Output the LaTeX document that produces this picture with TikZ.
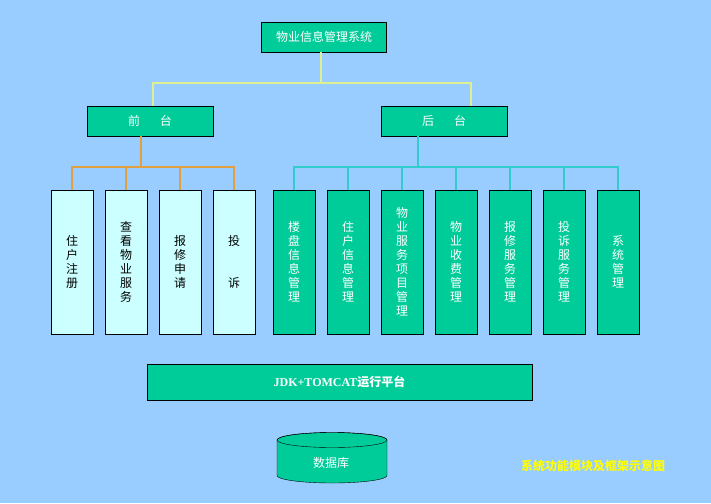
\documentclass[tikz,border=0pt]{standalone}
\usepackage{fontspec}
\setmainfont{Liberation Serif}
\newfontfamily\cjk{Noto Sans CJK SC}
\usetikzlibrary{positioning}

\definecolor{bgblue}{HTML}{99CCFF}
\definecolor{boxgreen}{HTML}{00CC99}
\definecolor{boxcyan}{HTML}{CCFFFF}
\definecolor{lineyellow}{HTML}{DDF090}
\definecolor{lineorange}{HTML}{E0A040}
\definecolor{lineteal}{HTML}{33CCCC}
\definecolor{capyellow}{HTML}{FFFF00}

\tikzset{
  headbox/.style = {draw=black, fill=boxgreen, text=white, inner sep=0pt,
    minimum height=30pt, font=\cjk\fontsize{12}{14}\selectfont},
  tallbox/.style = {draw=black, inner sep=0pt, minimum width=42pt,
    minimum height=144pt, align=center, font=\cjk\fontsize{12}{14}\selectfont},
  userbox/.style = {tallbox, fill=boxcyan, text=black},
  adminbox/.style = {tallbox, fill=boxgreen, text=white},
  yline/.style = {lineyellow, line width=1.5pt},
  oline/.style = {lineorange, line width=1.5pt},
  tline/.style = {lineteal, line width=1.5pt}
}

\begin{document}
\begin{tikzpicture}[x=1pt, y=-1pt]
\fill[bgblue] (0,0) rectangle (711,503);
\useasboundingbox (0,0) rectangle (711,503);

% top level
\node[headbox, minimum width=125pt] (sys) at (324,37) {物业信息管理系统};
\node[headbox, minimum width=126pt] (front) at (150,121) {前\hspace{20pt}台};
\node[headbox, minimum width=126pt] (back) at (444,121) {后\hspace{20pt}台};

% front modules
\foreach \t [count=\i] in {{住\\户\\注\\册}, {查\\看\\物\\业\\服\\务},
    {报\\修\\申\\请}, {投\\[28pt]诉}}
  \node[userbox] (u\i) at (18+54*\i,262) {\t};

% back modules
\foreach \t [count=\i] in {{楼\\盘\\信\\息\\管\\理}, {住\\户\\信\\息\\管\\理},
    {物\\业\\服\\务\\项\\目\\管\\理}, {物\\业\\收\\费\\管\\理},
    {报\\修\\服\\务\\管\\理}, {投\\诉\\服\\务\\管\\理}, {系\\统\\管\\理}}
  \node[adminbox] (a\i) at (240+54*\i,262) {\t};

% connectors
\draw[yline] ([xshift=-3pt]sys.south) -- ++(0,31) -| ([xshift=3pt]front.north);
\draw[yline] ([xshift=-3pt]sys.south) -- ++(0,31) -| ([xshift=27pt]back.north);
\foreach \i in {1,...,4}
  \draw[oline] ([xshift=-9pt]front.south) -- ++(0,31) -| (u\i.north);
\foreach \i in {1,...,7}
  \draw[tline] ([xshift=-26pt]back.south) -- ++(0,31) -| (a\i.north);

% platform
\node[draw=black, fill=boxgreen, text=white, inner sep=0pt,
  minimum width=385pt, minimum height=36pt,
  font=\bfseries\fontsize{12}{14}\selectfont] (jdk) at (339.5,382)
  {JDK+TOMCAT{\cjk 运行平台}};

% database
\filldraw[fill=boxgreen, draw=black] (277,440) -- (277,475.5)
  arc[start angle=180, end angle=360, x radius=55pt, y radius=7.5pt]
  -- (387,440)
  arc[start angle=0, end angle=180, x radius=55pt, y radius=7.5pt] -- cycle;
\draw[black] (332,440) ellipse[x radius=55pt, y radius=7.5pt];
\node[text=white, font=\cjk\fontsize{12}{14}\selectfont] (db) at (331,463) {数据库};

% caption
\node[text=capyellow, font=\cjk\bfseries\fontsize{12}{14}\selectfont] (cap) at (593,466)
  {系统功能模块及框架示意图};
\end{tikzpicture}
\end{document}
